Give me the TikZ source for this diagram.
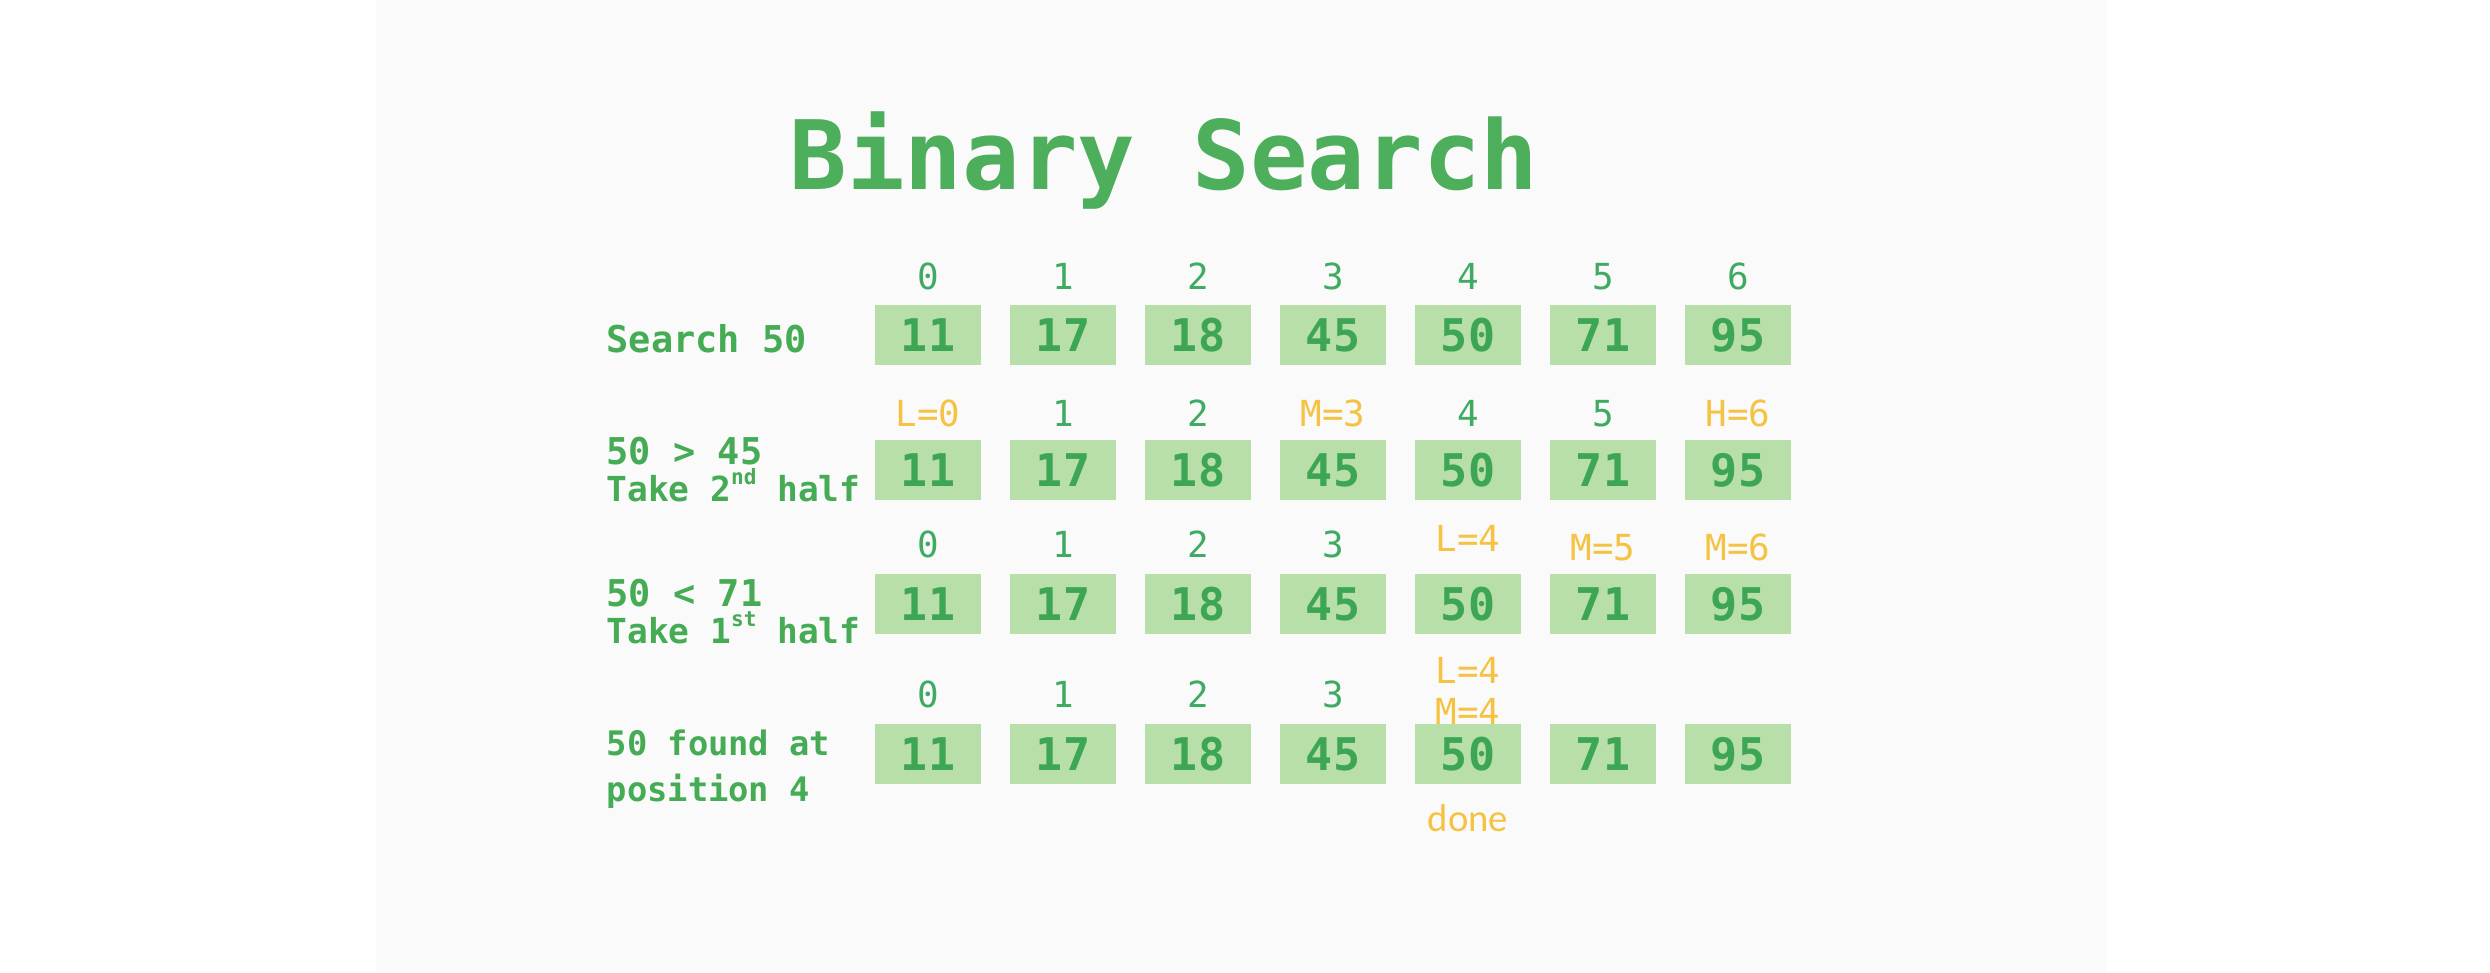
\documentclass[tikz,border=0pt]{standalone}
\usepackage{fontspec}
\setmonofont{DejaVu Sans Mono}
\newfontfamily\donefont{Carlito}
\usepackage{tikz}
\usetikzlibrary{positioning}
\usepackage{xcolor}
\definecolor{TitleGreen}{HTML}{4DAE5B}
\definecolor{NumGreen}{HTML}{3DA655}
\definecolor{CellFill}{HTML}{B8DFA9}
\definecolor{IdxGreen}{HTML}{3FAA62}
\definecolor{TextGreen}{HTML}{45AB55}
\definecolor{PtrYellow}{HTML}{F5C242}
\definecolor{PaperGray}{HTML}{FAFAFA}

\newcommand{\smallline}{\fontsize{9.8}{10.5}\selectfont}
\newcommand{\ord}[1]{\raisebox{0.9ex}{\fontsize{6}{6}\selectfont #1}}

\begin{document}
\begin{tikzpicture}[
    x=0.01cm, y=-0.01cm,
    cell/.style={
        fill=CellFill,
        minimum width=1.05cm,
        minimum height=0.6cm,
        inner sep=0pt,
        text=NumGreen,
        font=\ttfamily\bfseries\fontsize{12.8}{15}\selectfont
    },
    idx/.style={
        inner sep=0pt,
        text=IdxGreen,
        font=\ttfamily\fontsize{10.2}{12}\selectfont
    },
    ptr/.style={
        idx,
        text=PtrYellow
    },
    steptext/.style={
        inner sep=0pt,
        align=left,
        text=TextGreen,
        font=\ttfamily\bfseries\fontsize{10.5}{10.5}\selectfont
    }
]

\fill[white] (0,0) rectangle (2490,972);
\fill[PaperGray] (376,0) rectangle (2107,972);

\node[anchor=base, inner sep=0pt, text=TitleGreen,
      font=\ttfamily\bfseries\fontsize{27.2}{30}\selectfont] (title) at (1164,189) {Binary Search};

% row 1
\node[steptext, anchor=base west] (t1) at (606,352) {Search 50};
\node[cell] (r1c0) at (928,335) {11};
\node[cell] (r1c1) at (1063,335) {17};
\node[cell] (r1c2) at (1198,335) {18};
\node[cell] (r1c3) at (1333,335) {45};
\node[cell] (r1c4) at (1468,335) {50};
\node[cell] (r1c5) at (1603,335) {71};
\node[cell] (r1c6) at (1738,335) {95};
\node[idx, above=0.14cm of r1c0] (r1i0) {0};
\node[idx, above=0.14cm of r1c1] (r1i1) {1};
\node[idx, above=0.14cm of r1c2] (r1i2) {2};
\node[idx, above=0.14cm of r1c3] (r1i3) {3};
\node[idx, above=0.14cm of r1c4] (r1i4) {4};
\node[idx, above=0.14cm of r1c5] (r1i5) {5};
\node[idx, above=0.14cm of r1c6] (r1i6) {6};

% row 2
\node[steptext, anchor=north west] (t2) at (606,436) {50 > 45\\[0pt]\smallline Take 2\ord{nd} half};
\node[cell] (r2c0) at (928,470) {11};
\node[cell] (r2c1) at (1063,470) {17};
\node[cell] (r2c2) at (1198,470) {18};
\node[cell] (r2c3) at (1333,470) {45};
\node[cell] (r2c4) at (1468,470) {50};
\node[cell] (r2c5) at (1603,470) {71};
\node[cell] (r2c6) at (1738,470) {95};
\node[ptr, above=0.12cm of r2c0] (r2i0) {L=0};
\node[idx, above=0.12cm of r2c1] (r2i1) {1};
\node[idx, above=0.12cm of r2c2] (r2i2) {2};
\node[ptr, above=0.12cm of r2c3] (r2i3) {M=3};
\node[idx, above=0.12cm of r2c4] (r2i4) {4};
\node[idx, above=0.12cm of r2c5] (r2i5) {5};
\node[ptr, above=0.12cm of r2c6] (r2i6) {H=6};

% row 3
\node[steptext, anchor=north west] (t3) at (606,578) {50 < 71\\[0pt]\smallline Take 1\ord{st} half};
\node[cell] (r3c0) at (928,604) {11};
\node[cell] (r3c1) at (1063,604) {17};
\node[cell] (r3c2) at (1198,604) {18};
\node[cell] (r3c3) at (1333,604) {45};
\node[cell] (r3c4) at (1468,604) {50};
\node[cell] (r3c5) at (1603,604) {71};
\node[cell] (r3c6) at (1738,604) {95};
\node[idx, above=0.15cm of r3c0] (r3i0) {0};
\node[idx, above=0.15cm of r3c1] (r3i1) {1};
\node[idx, above=0.15cm of r3c2] (r3i2) {2};
\node[idx, above=0.15cm of r3c3] (r3i3) {3};
\node[ptr, above=0.21cm of r3c4] (r3i4) {L=4};
\node[ptr, above=0.12cm of r3c5] (r3i5) {M=5};
\node[ptr, above=0.12cm of r3c6] (r3i6) {M=6};

% row 4
\node[steptext, anchor=north west, font=\ttfamily\bfseries\fontsize{9.6}{9.6}\selectfont] (t4) at (606,729) {50 found at\\[3.6pt]position 4};
\node[cell] (r4c0) at (928,754) {11};
\node[cell] (r4c1) at (1063,754) {17};
\node[cell] (r4c2) at (1198,754) {18};
\node[cell] (r4c3) at (1333,754) {45};
\node[cell] (r4c4) at (1468,754) {50};
\node[cell] (r4c5) at (1603,754) {71};
\node[cell] (r4c6) at (1738,754) {95};
\node[idx, above=0.15cm of r4c0] (r4i0) {0};
\node[idx, above=0.15cm of r4c1] (r4i1) {1};
\node[idx, above=0.15cm of r4c2] (r4i2) {2};
\node[idx, above=0.15cm of r4c3] (r4i3) {3};
\node[ptr, above=-0.02cm of r4c4] (r4m) {M=4};
\node[ptr, above=0.14cm of r4m] (r4l) {L=4};
\node[ptr, below=0.19cm of r4c4, font=\donefont\fontsize{11}{13}\selectfont] (done) {done};

\end{tikzpicture}
\end{document}
